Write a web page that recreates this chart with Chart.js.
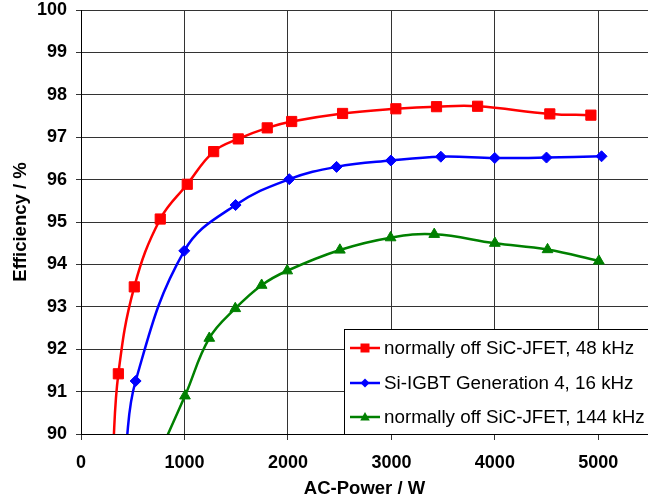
<!DOCTYPE html>
<html>
<head>
<meta charset="utf-8">
<script src="https://cdn.jsdelivr.net/npm/chart.js@4.4.0/dist/chart.umd.min.js"></script>
<style>
  html, body { margin: 0; padding: 0; background: #fff; }
  #wrap { width: 648px; height: 503px; }
</style>
</head>
<body>
<div id="wrap"><canvas id="effChart" width="648" height="503"></canvas></div>
<script>
// series names
const seriesLabels = [
  "normally off SiC-JFET, 48 kHz",
  "Si-IGBT Generation 4, 16 kHz",
  "normally off SiC-JFET, 144 kHz",
];

// (first point of each curve sits below the 90 % floor)
const redPower = [305, 361, 515, 766, 1027, 1282, 1520, 1800, 2036, 2528, 3043, 3436, 3833, 4531, 4928];
const redEff = [89.4, 91.42, 93.47, 95.07, 95.89, 96.66, 96.96, 97.22, 97.37, 97.56, 97.67, 97.72, 97.73, 97.55, 97.52];

const bluePower = [425, 528, 998, 1494, 2013, 2470, 2995, 3478, 3999, 4499, 5031];
const blueEff = [89.5, 91.25, 94.32, 95.4, 96.01, 96.3, 96.45, 96.54, 96.51, 96.52, 96.55];

const greenPower = [740, 1005, 1240, 1491, 1746, 1993, 2502, 2992, 3414, 4000, 4509, 5005];
const greenEff = [89.45, 90.9, 92.26, 92.96, 93.51, 93.85, 94.34, 94.63, 94.71, 94.5, 94.35, 94.08];

const xTicks = [0, 1000, 2000, 3000, 4000, 5000];
const yTicks = [90, 91, 92, 93, 94, 95, 96, 97, 98, 99, 100];

const FONT = "'Liberation Sans', Arial, sans-serif";

const toPoints = (xs, ys) => xs.map((x, i) => ({ x: x, y: ys[i] }));

const makeSet = (label, xs, ys, color, style, r) => ({
  label: label,
  data: toPoints(xs, ys),
  borderColor: color,
  backgroundColor: color,
  borderWidth: 2.5,
  tension: 0.4,
  pointStyle: style,
  pointRadius: ys.map((v) => (v < 90 ? 0 : r)),
  pointBorderWidth: 1,
  pointBorderColor: color,
  pointBackgroundColor: color,
  _marker: style,
});

// draw a marker for the legend
function drawMarker(ctx, style, x, y, r, color) {
  ctx.fillStyle = color;
  ctx.beginPath();
  if (style === "rect") {
    ctx.rect(x - r, y - r, 2 * r, 2 * r);
  } else if (style === "rectRot") {
    ctx.moveTo(x, y - r);
    ctx.lineTo(x + r, y);
    ctx.lineTo(x, y + r);
    ctx.lineTo(x - r, y);
  } else {
    ctx.moveTo(x, y - r);
    ctx.lineTo(x + r * 0.95, y + r * 0.7);
    ctx.lineTo(x - r * 0.95, y + r * 0.7);
  }
  ctx.closePath();
  ctx.fill();
}

// legend box in the lower right corner of the plot
const legendBox = {
  id: "legendBox",
  afterDraw(chart) {
    const ctx = chart.ctx;
    const area = chart.chartArea;
    const left = 344;
    const top = 329;
    const rows = [348, 383, 417];
    const sizes = [4.5, 4.5, 5];
    ctx.save();
    ctx.fillStyle = "#fff";
    ctx.fillRect(left, top, chart.width - left + 10, area.bottom - top);
    ctx.strokeStyle = "#000";
    ctx.lineWidth = 1;
    ctx.strokeRect(left + 0.5, top + 0.5, chart.width - left + 10, area.bottom - top);
    chart.data.datasets.forEach((ds, i) => {
      const y = rows[i];
      ctx.strokeStyle = ds.borderColor;
      ctx.lineWidth = 2.5;
      ctx.beginPath();
      ctx.moveTo(350, y);
      ctx.lineTo(380, y);
      ctx.stroke();
      drawMarker(ctx, ds._marker, 365, y, sizes[i], ds.borderColor);
      ctx.fillStyle = "#000";
      ctx.font = "18.8px " + FONT;
      ctx.textAlign = "left";
      ctx.textBaseline = "middle";
      ctx.fillText(ds.label, 384, y + 1);
    });
    ctx.restore();
  },
};

const ctx = document.getElementById("effChart").getContext("2d");
const effChart = new Chart(ctx, {
  type: "line",
  data: {
    datasets: [
      makeSet(seriesLabels[0], redPower, redEff, "#ff0000", "rect", 7.2),
      makeSet(seriesLabels[1], bluePower, blueEff, "#0000ff", "rectRot", 5.5),
      makeSet(seriesLabels[2], greenPower, greenEff, "#008000", "triangle", 6.2),
    ],
  },
  options: {
    responsive: false,
    animation: false,
    devicePixelRatio: 1,
    layout: { autoPadding: false, padding: { top: 10, left: 0, right: 0, bottom: 0 } },
    plugins: {
      legend: { display: false },
      tooltip: { enabled: false },
    },
    scales: {
      x: {
        type: "linear",
        min: 0,
        max: 5480,
        afterBuildTicks: (s) => {
          s.ticks = xTicks.map((v) => ({ value: v }));
        },
        afterFit: (s) => {
          s.height = 69;
          s.paddingLeft = 0;
          s.paddingRight = 0;
        },
        grid: { color: "#333", lineWidth: 1, tickLength: 6 },
        border: { color: "#000", width: 1 },
        ticks: {
          color: "#000",
          padding: 14,
          maxRotation: 0,
          autoSkip: false,
          font: { family: FONT, size: 18, weight: "bold", lineHeight: 1 },
          callback: (v) => String(v),
        },
        title: {
          display: true,
          text: "AC-Power / W",
          color: "#000",
          font: { family: FONT, size: 18.5, weight: "bold" },
          padding: { top: 0, bottom: 3 },
        },
      },
      y: {
        min: 90,
        max: 100,
        afterBuildTicks: (s) => {
          s.ticks = yTicks.map((v) => ({ value: v }));
        },
        afterFit: (s) => {
          s.width = 81;
          s.paddingTop = 0;
          s.paddingBottom = 0;
        },
        grid: { color: "#333", lineWidth: 1, tickLength: 5 },
        border: { color: "#000", width: 1 },
        ticks: {
          color: "#000",
          padding: 9,
          font: { family: FONT, size: 18, weight: "bold", lineHeight: 1 },
          callback: (v) => String(v),
        },
        title: {
          display: true,
          text: "Efficiency / %",
          color: "#000",
          font: { family: FONT, size: 18.5, weight: "bold" },
          padding: { top: 10, bottom: 0 },
        },
      },
    },
  },
  plugins: [legendBox],
});
</script>
</body>
</html>
